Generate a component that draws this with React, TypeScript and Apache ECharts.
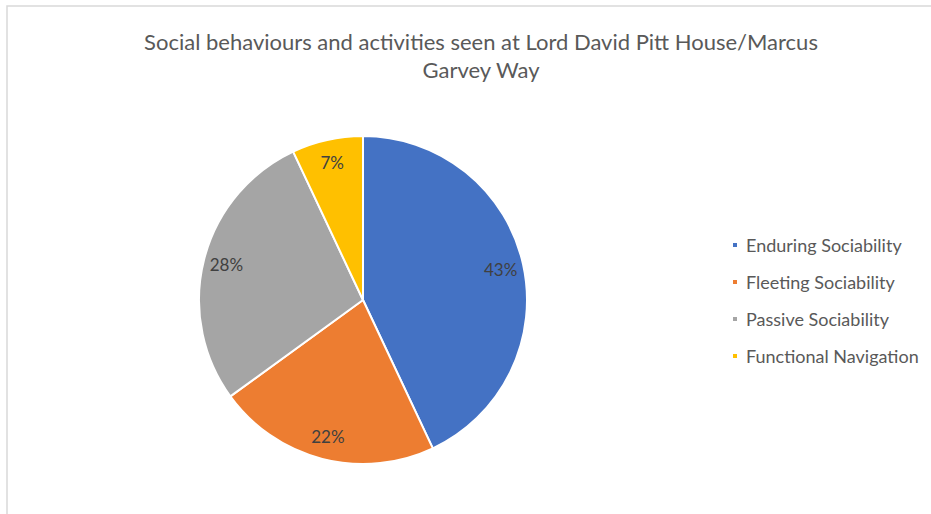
import React, { useEffect, useRef } from "react";
import * as echarts from "echarts";

const titleLines = ["Social behaviours and activities seen at Lord David Pitt House/Marcus", "Garvey Way"];
const categories = ["Enduring Sociability", "Fleeting Sociability", "Passive Sociability", "Functional Navigation"];
const values = [43, 22, 28, 7];
const colors = ["#4472C4", "#ED7D31", "#A5A5A5", "#FFC000"];

export default function App() {
  const ref = useRef<HTMLDivElement>(null);
  useEffect(() => {
    document.body.style.margin = "0";
    const chart = echarts.init(ref.current!, null, { renderer: "svg" });
    const data = categories.map((name, i) => ({ name, value: values[i], itemStyle: { color: colors[i] } }));
    const center = [363, 300];
    chart.setOption({
      animation: false,
      backgroundColor: "#ffffff",
      title: {
        text: titleLines.join("\n"),
        left: 476,
        textAlign: "center",
        top: 22,
        textStyle: { fontFamily: "Lato", fontSize: 22, fontWeight: "normal", color: "#595959", lineHeight: 28 },
      },
      legend: {
        orient: "vertical",
        left: 726,
        top: 229,
        itemWidth: 6,
        itemHeight: 6,
        itemGap: 15,
        icon: "rect",
        data: categories,
        textStyle: { fontFamily: "Lato", fontSize: 18, color: "#595959", lineHeight: 22, padding: [0, 0, 0, 3] },
      },
      graphic: [
        {
          type: "rect",
          shape: { x: 7, y: 6, width: 1200, height: 1200 },
          style: { fill: "none", stroke: "#d9d9d9", lineWidth: 1.5 },
          silent: true,
        },
      ],
      series: [
        {
          type: "pie",
          center,
          radius: [0, 164],
          startAngle: 90,
          clockwise: true,
          data,
          label: { show: false },
          labelLine: { show: false },
          itemStyle: { borderColor: "#ffffff", borderWidth: 2 },
          emphasis: { disabled: true },
        },
        {
          type: "pie",
          center,
          radius: [112, 164],
          startAngle: 90,
          clockwise: true,
          silent: true,
          data: categories.map((name, i) => ({ name, value: values[i] })),
          itemStyle: { color: "rgba(0,0,0,0)" },
          label: {
            show: true,
            position: "inside",
            formatter: "{c}%",
            fontFamily: "Lato",
            fontSize: 17,
            color: "#404040",
          },
          labelLine: { show: false },
          emphasis: { disabled: true },
        },
      ],
    });
    return () => chart.dispose();
  }, []);
  return <div ref={ref} style={{ width: 931, height: 514 }} />;
}
